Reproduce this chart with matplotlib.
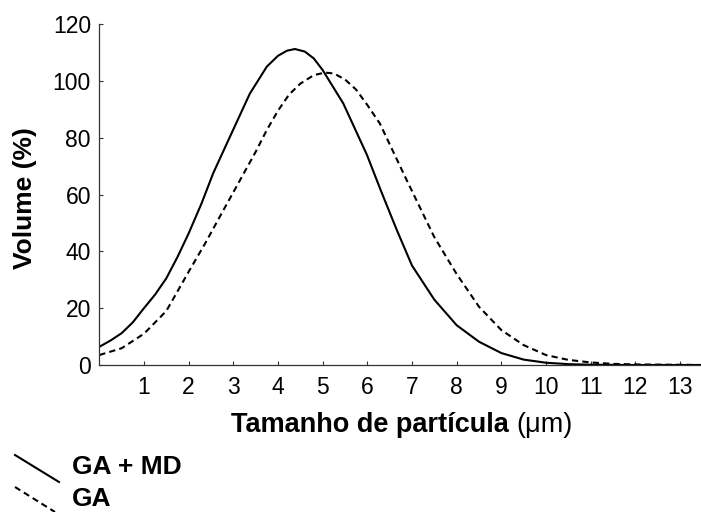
import matplotlib
matplotlib.use('Agg')
import matplotlib.pyplot as plt
from matplotlib.lines import Line2D

plt.rcParams['font.family'] = ['Liberation Sans', 'DejaVu Sans']

# GA + MD (solid)
size_gamd = [0, 0.25, 0.5, 0.75, 1, 1.25, 1.5, 1.75, 2, 2.29, 2.55, 2.93, 3.37, 3.75, 4, 4.2, 4.38,
             4.6, 4.8, 5, 5.46, 5.99, 6.3, 6.66, 7, 7.5, 8, 8.5, 9, 9.5, 10, 10.5, 11, 12, 13.47]
vol_gamd = [6.4, 8.6, 11.2, 15, 20, 24.8, 30.5, 38, 46.3, 56.9, 67.5, 80.5, 95.5, 105, 108.8, 110.6, 111.2,
            110.3, 107.9, 103.8, 92.1, 74, 61.5, 47.5, 35, 23, 14, 8.2, 4.2, 1.9, 0.8, 0.3, 0.1, 0, 0]

# GA (dashed)
size_ga = [0, 0.5, 1, 1.5, 2, 2.37, 2.74, 3.11, 3.5, 3.75, 4, 4.25, 4.5, 4.8, 5.05, 5.25, 5.5,
           5.75, 6, 6.28, 6.5, 6.88, 7.5, 8, 8.5, 9, 9.5, 10, 10.5, 11, 11.5, 12, 13.47]
vol_ga = [3.5, 5.9, 11, 19, 32.8, 42.8, 53.4, 63.9, 75, 82.7, 89.5, 95.2, 99, 102, 102.9, 102.6, 100.5,
          96.9, 91.5, 85, 77.7, 65.1, 45, 32, 20.5, 12.3, 7, 3.5, 1.8, 0.9, 0.4, 0.2, 0]

xticks = list(range(1, 14))
yticks = [0, 20, 40, 60, 80, 100, 120]

W, H = 701, 512
fig = plt.figure(figsize=(7.01, 5.12), dpi=100)
ax = fig.add_axes([99.3 / W, 1 - 365 / H, (W - 99.3) / W, (365 - 24) / H])

ax.plot(size_gamd, vol_gamd, color='black', lw=1.5)
ax.plot(size_ga, vol_ga, color='black', lw=1.5, linestyle=(0, (3, 2)))

ax.set_xlim(0, 13.47)
ax.set_ylim(0, 120)
ax.set_xticks(xticks)
ax.set_yticks(yticks)
ax.tick_params(direction='in', length=3, width=0.8, labelsize=16.5, color='#333333')
ax.tick_params(axis='x', pad=8)
ax.tick_params(axis='y', pad=6)
for s in ['top', 'right']:
    ax.spines[s].set_visible(False)
for s in ['left', 'bottom']:
    ax.spines[s].set_linewidth(0.9)
    ax.spines[s].set_color('#333333')

fig.text(25 / W, 1 - 198 / H, 'Volume (%)', rotation=90, ha='center', va='center',
         fontsize=19, fontweight='bold')

# x label: bold words, regular "(μm)"
t1 = fig.text(231 / W, 1 - 425 / H, 'Tamanho de partícula ', ha='left', va='center',
              fontsize=19.5, fontweight='bold')
ax.annotate('(μm)', xy=(1, 0), xycoords=t1, ha='left', va='bottom', fontsize=19.5,
            annotation_clip=False)

# legend
fig.add_artist(Line2D([15 / W, 59 / W], [1 - 455 / H, 1 - 482 / H], color='black', lw=1.5))
fig.add_artist(Line2D([15 / W, 55 / W], [1 - 487 / H, 1 - 512 / H], color='black', lw=1.5,
                      linestyle=(0, (3, 2))))
fig.text(72 / W, 1 - 467 / H, 'GA + MD', ha='left', va='center', fontsize=19, fontweight='bold')
fig.text(72 / W, 1 - 499 / H, 'GA', ha='left', va='center', fontsize=19, fontweight='bold')

fig.savefig('out.png', dpi=100)
